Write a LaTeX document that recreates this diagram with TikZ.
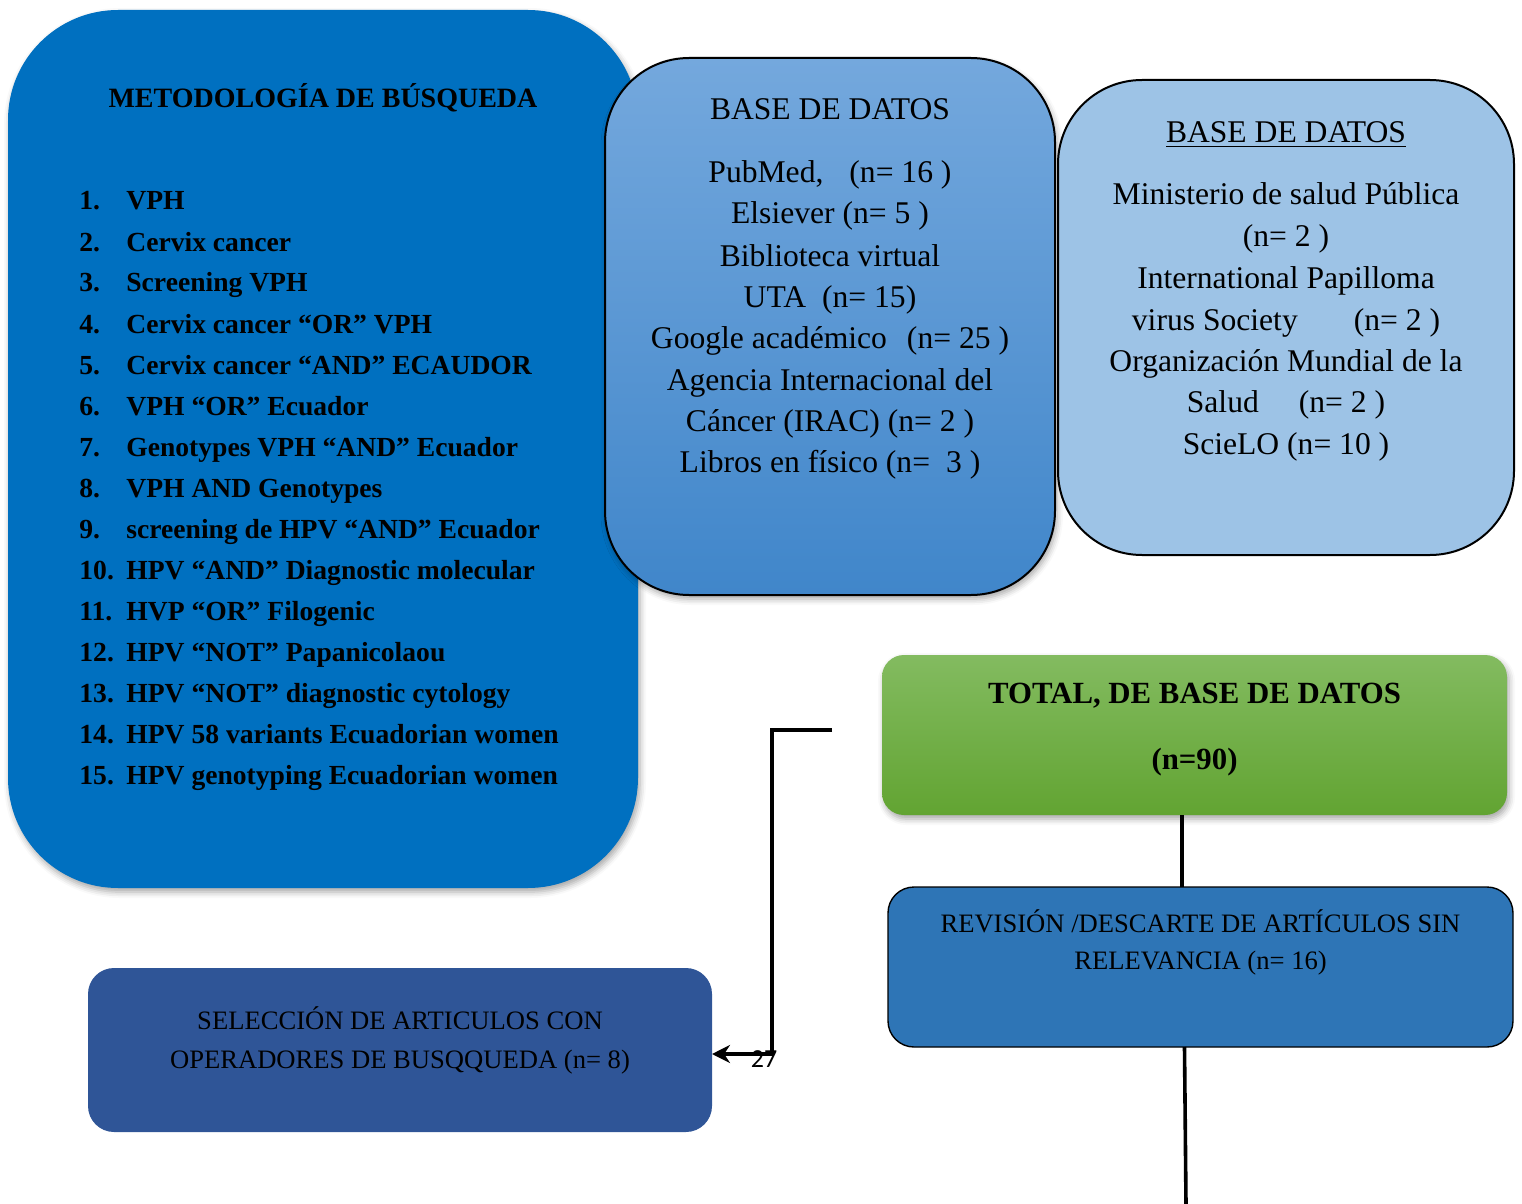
\documentclass[tikz,border=0pt]{standalone}
\usepackage{fontspec}
\setmainfont{Liberation Serif}
\newfontfamily\pagenumfont{Carlito}
\usetikzlibrary{arrows.meta,shadows.blur}
\definecolor{cBigBlue}{RGB}{0,112,192}
\definecolor{cDbTop}{RGB}{116,168,221}
\definecolor{cDbBot}{RGB}{64,134,202}
\definecolor{cDbLight}{RGB}{157,195,230}
\definecolor{cGreenTop}{RGB}{131,187,96}
\definecolor{cGreenBot}{RGB}{98,164,50}
\definecolor{cRevBlue}{RGB}{46,117,182}
\definecolor{cSelBlue}{RGB}{47,85,151}
\begin{document}
\begin{tikzpicture}[x=0.5pt,y=-0.5pt,
  shapebox/.style={inner sep=0pt,outer sep=0pt},
  softshadow/.style={blur shadow={shadow xshift=1pt,shadow yshift=-2pt,shadow blur radius=3pt,shadow opacity=35}},
  boldtitle/.style={font=\fontsize{14}{17}\selectfont\bfseries,anchor=base,inner sep=0pt},
  listitem/.style={font=\fontsize{13.8}{17}\selectfont\bfseries,anchor=base west,inner sep=0pt},
  dbline/.style={font=\fontsize{15.8}{19}\selectfont,anchor=base,inner sep=0pt},
  greenline/.style={font=\fontsize{15.4}{19}\selectfont\bfseries,anchor=base,inner sep=0pt},
  smallline/.style={font=\fontsize{13.3}{16}\selectfont,anchor=base,inner sep=0pt},
  conn/.style={line width=1.8pt,draw=black}]
\useasboundingbox (0,0) rectangle (1522,1204);

% big methodology box
\node[shapebox,softshadow,fill=cBigBlue,rounded corners=55pt,minimum width=315pt,minimum height=439pt] (meto) at (323,449) {};
\node[boldtitle] (metotitle) at (323,108) {METODOLOGÍA DE BÚSQUEDA};
\foreach \i/\t in {1/VPH,2/Cervix cancer,3/Screening VPH,4/Cervix cancer “OR” VPH,5/Cervix cancer “AND” ECAUDOR,6/VPH “OR” Ecuador,7/Genotypes VPH “AND” Ecuador,8/VPH AND Genotypes,9/screening de HPV “AND” Ecuador,10/HPV “AND” Diagnostic molecular,11/HVP “OR” Filogenic,12/HPV “NOT” Papanicolaou,13/HPV “NOT” diagnostic cytology,14/HPV 58 variants Ecuadorian women,15/HPV genotyping Ecuadorian women}
  \node[listitem] (item\i) at (79,{210+41*(\i-1)}) {\makebox[23.5pt][l]{\i.}\t};

% database box 1
\node[shapebox,softshadow,draw=black,line width=1pt,top color=cDbTop,bottom color=cDbBot,rounded corners=42pt,minimum width=225pt,minimum height=268.5pt] (dbone) at (830,326.5) {};
\node[dbline] (dbonetitle) at (830,120) {BASE DE DATOS};
\node[dbline] (dbonea) at (830,183) {PubMed,\hspace{13pt}(n= 16 )};
\node[dbline] (dboneb) at (830,224) {Elsiever (n= 5 )};
\node[dbline] (dbonec) at (830,266) {Biblioteca virtual};
\node[dbline] (dboned) at (830,307) {UTA\hspace{8pt}(n= 15)};
\node[dbline] (dbonee) at (830,348) {Google académico\hspace{10pt}(n= 25 )};
\node[dbline] (dbonef) at (830,390) {Agencia Internacional del};
\node[dbline] (dboneg) at (830,431) {Cáncer (IRAC) (n= 2 )};
\node[dbline] (dboneh) at (830,472) {Libros en físico (n=\hspace{8pt}3 )};

% database box 2
\node[shapebox,draw=black,line width=1pt,fill=cDbLight,rounded corners=42pt,minimum width=228pt,minimum height=237.5pt] (dbtwo) at (1286,317.5) {};
\node[dbline] (dbtwotitle) at (1286,143) {\underline{BASE DE DATOS}};
\node[dbline] (dbtwoa) at (1286,205) {Ministerio de salud Pública};
\node[dbline] (dbtwob) at (1286,247) {(n= 2 )};
\node[dbline] (dbtwoc) at (1286,288) {International Papilloma};
\node[dbline] (dbtwod) at (1286,330) {virus Society\hspace{28pt}(n= 2 )};
\node[dbline] (dbtwoe) at (1286,371) {Organización Mundial de la};
\node[dbline] (dbtwof) at (1286,412) {Salud\hspace{20pt}(n= 2 )};
\node[dbline] (dbtwog) at (1286,454) {ScieLO (n= 10 )};

% total box
\node[shapebox,softshadow,top color=cGreenTop,bottom color=cGreenBot,rounded corners=11pt,minimum width=312.5pt,minimum height=80pt] (green) at (1194.5,735) {};
\node[greenline] (greena) at (1194.5,703) {TOTAL, DE BASE DE DATOS};
\node[greenline] (greenb) at (1194.5,769) {(n=90)};

% revision box
\node[shapebox,draw=black,line width=0.7pt,fill=cRevBlue,rounded corners=13pt,minimum width=312.5pt,minimum height=80pt] (rev) at (1200.5,967) {};
\node[smallline] (reva) at (1200.5,932) {REVISIÓN /DESCARTE DE ARTÍCULOS SIN};
\node[smallline] (revb) at (1200.5,969) {RELEVANCIA (n= 16)};

% selection box
\node[shapebox,fill=cSelBlue,rounded corners=13pt,minimum width=312pt,minimum height=82pt] (sel) at (400,1050) {};
\node[smallline] (sela) at (400,1029) {SELECCIÓN DE ARTICULOS CON};
\node[smallline] (selb) at (400,1068) {OPERADORES DE BUSQQUEDA (n= 8)};

% connectors
\draw[conn] ([xshift=-6.25pt]green.south) -- ([xshift=-6.25pt]green.south |- rev.north);
\coordinate (bottomend) at (1186,1204);
\draw[conn] ([xshift=-8pt]rev.south) -- (bottomend);
\coordinate (elbowstart) at (832,730);
\coordinate (elbowbend) at (772,1054);
\draw[conn,-{Stealth[length=9pt,width=9pt]}] (elbowstart) -| (elbowbend) -- (elbowbend -| sel.east);
\node[font=\pagenumfont\fontsize{13}{15}\selectfont,anchor=base,inner sep=0pt] (pagenum) at (764,1067) {27};
\end{tikzpicture}
\end{document}
